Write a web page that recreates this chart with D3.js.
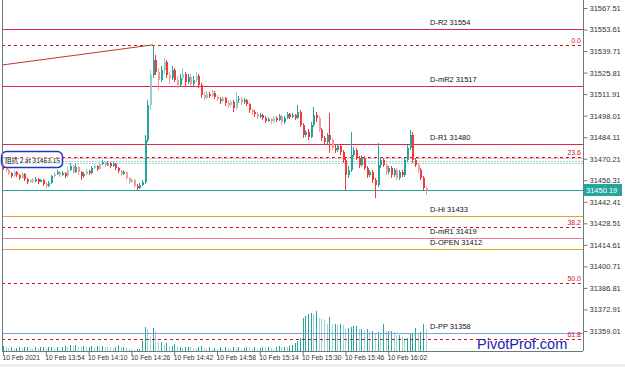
<!DOCTYPE html>
<html>
<head>
<meta charset="utf-8">
<script src="https://cdn.jsdelivr.net/npm/d3@7"></script>
<style>
  body { margin: 0; background: #fff; }
  svg { display: block; }
</style>
</head>
<body>
<div id="chart"></div>
<script>
// M1 bars, 10 Feb 2021 from 13:38, one row per minute: [open, high, low, close]
const startTime = new Date(2021, 1, 10, 13, 38);
const candles = [
  [31465.5,31466.8,31463.0,31464.3],[31464.3,31464.9,31461.7,31463.0],[31463.0,31463.6,31459.7,31461.0],[31461.0,31461.7,31457.8,31459.1],
  [31459.1,31463.0,31458.5,31461.7],[31461.7,31462.3,31458.5,31459.7],[31459.7,31460.4,31456.5,31457.8],[31457.8,31461.7,31457.2,31460.4],
  [31460.4,31461.0,31455.9,31457.2],[31457.2,31457.8,31453.9,31455.2],[31455.2,31457.2,31454.6,31456.5],[31456.5,31457.8,31454.6,31455.9],
  [31455.9,31458.5,31455.2,31457.2],[31457.2,31457.8,31453.9,31455.2],[31455.2,31457.2,31455.2,31456.5],[31456.5,31457.2,31452.6,31453.9],
  [31453.9,31455.2,31451.3,31452.6],[31452.6,31455.9,31452.0,31454.6],[31454.6,31459.7,31453.9,31459.1],[31459.1,31461.7,31457.8,31460.4],
  [31460.4,31463.0,31459.7,31461.7],[31461.7,31462.3,31458.5,31459.7],[31459.7,31462.3,31459.1,31461.0],[31461.0,31461.7,31457.8,31459.1],
  [31459.1,31465.5,31458.5,31463.0],[31463.0,31467.5,31462.3,31465.5],[31465.5,31466.2,31460.4,31461.7],[31461.7,31466.8,31461.0,31464.9],
  [31464.9,31465.5,31459.7,31461.7],[31461.7,31462.3,31456.5,31459.1],[31459.1,31461.7,31457.8,31460.4],[31460.4,31463.6,31459.7,31462.3],
  [31462.3,31463.0,31459.7,31461.0],[31461.0,31465.5,31460.4,31464.3],[31464.3,31466.8,31463.6,31465.5],[31465.5,31466.2,31462.3,31463.6],
  [31463.6,31468.1,31463.0,31466.8],[31466.8,31469.4,31466.2,31468.1],[31468.1,31468.8,31464.9,31466.2],[31466.2,31468.8,31465.5,31467.5],
  [31467.5,31468.1,31464.3,31465.5],[31465.5,31468.1,31464.9,31466.8],[31466.8,31467.5,31463.0,31464.3],[31464.3,31464.9,31461.0,31462.3],
  [31462.3,31463.0,31459.1,31460.4],[31460.4,31463.0,31459.7,31461.7],[31461.7,31462.3,31456.5,31457.8],[31457.8,31458.5,31453.9,31455.2],
  [31455.2,31457.8,31454.6,31456.5],[31456.5,31457.2,31451.3,31452.6],[31452.6,31453.9,31450.1,31451.3],[31451.3,31454.6,31450.7,31453.3],
  [31453.3,31456.5,31452.6,31455.2],[31455.2,31485.6,31453.9,31482.3],[31482.3,31508.2,31481.0,31504.9],[31504.9,31527.5,31501.7,31524.3],
  [31524.3,31543.7,31522.4,31534.0],[31534.0,31537.2,31524.3,31526.2],[31526.2,31528.8,31514.6,31521.1],[31521.1,31530.1,31519.8,31527.5],
  [31527.5,31535.3,31524.9,31532.7],[31532.7,31534.0,31522.4,31524.3],[31524.3,31526.2,31518.5,31522.4],[31522.4,31530.1,31521.1,31527.5],
  [31527.5,31528.8,31519.8,31521.1],[31521.1,31523.6,31515.9,31517.8],[31517.8,31524.9,31517.2,31522.4],[31522.4,31528.8,31521.1,31524.9],
  [31524.9,31526.2,31517.2,31519.8],[31519.8,31524.9,31518.5,31523.0],[31523.0,31524.9,31517.2,31518.5],[31518.5,31523.6,31517.2,31521.1],
  [31521.1,31526.2,31519.8,31523.6],[31523.6,31524.9,31515.9,31517.8],[31517.8,31519.1,31509.4,31511.4],[31511.4,31513.3,31508.2,31509.4],
  [31509.4,31514.0,31508.8,31512.0],[31512.0,31513.3,31509.4,31510.7],[31510.7,31514.6,31510.1,31512.7],[31512.7,31514.0,31508.8,31510.1],
  [31510.1,31511.4,31507.5,31508.8],[31508.8,31510.1,31505.6,31507.5],[31507.5,31510.7,31506.2,31509.4],[31509.4,31510.1,31504.3,31506.2],
  [31506.2,31507.5,31503.0,31504.9],[31504.9,31508.2,31503.6,31506.9],[31506.9,31508.2,31500.4,31503.0],[31503.0,31513.3,31501.7,31508.2],
  [31508.2,31510.7,31506.2,31508.8],[31508.8,31510.1,31504.9,31506.9],[31506.9,31509.4,31505.6,31508.2],[31508.2,31508.8,31504.3,31505.6],
  [31505.6,31506.2,31499.8,31501.7],[31501.7,31503.0,31498.5,31500.4],[31500.4,31501.7,31497.2,31499.1],[31499.1,31500.4,31495.9,31497.2],
  [31497.2,31499.8,31496.5,31498.5],[31498.5,31499.1,31495.2,31496.5],[31496.5,31497.8,31493.3,31494.6],[31494.6,31497.2,31493.9,31495.9],
  [31495.9,31496.5,31492.7,31494.6],[31494.6,31497.8,31493.3,31496.5],[31496.5,31497.8,31493.9,31495.2],[31495.2,31499.1,31494.6,31497.8],
  [31497.8,31498.5,31492.0,31493.9],[31493.9,31497.8,31492.7,31496.5],[31496.5,31500.4,31495.9,31499.1],[31499.1,31499.8,31495.9,31497.2],
  [31497.2,31499.8,31496.5,31498.5],[31498.5,31499.1,31495.2,31496.5],[31496.5,31504.9,31495.9,31500.4],[31500.4,31501.7,31490.7,31492.0],
  [31492.0,31493.3,31483.6,31485.6],[31485.6,31488.8,31484.3,31487.5],[31487.5,31489.4,31482.3,31484.3],[31484.3,31493.9,31483.6,31492.0],
  [31492.0,31503.6,31490.7,31498.5],[31498.5,31500.4,31493.9,31496.5],[31496.5,31497.8,31487.5,31488.8],[31488.8,31490.1,31481.7,31483.6],
  [31483.6,31484.9,31479.1,31481.0],[31481.0,31486.8,31479.7,31485.6],[31485.6,31499.8,31473.9,31482.3],[31482.3,31483.6,31475.9,31477.2],
  [31477.2,31479.1,31473.9,31475.9],[31475.9,31479.7,31474.6,31478.5],[31478.5,31479.1,31472.6,31474.6],[31474.6,31475.9,31467.5,31469.4],
  [31469.4,31470.7,31450.1,31459.7],[31459.7,31465.5,31457.8,31463.0],[31463.0,31487.5,31461.7,31472.6],[31472.6,31477.8,31471.4,31475.9],
  [31475.9,31477.2,31469.4,31470.7],[31470.7,31472.0,31464.3,31466.2],[31466.2,31472.6,31464.9,31470.7],[31470.7,31472.0,31463.0,31464.3],
  [31464.3,31465.5,31457.8,31459.7],[31459.7,31463.0,31458.5,31461.7],[31461.7,31463.0,31454.6,31456.5],[31456.5,31457.8,31444.9,31453.3],
  [31453.3,31480.4,31452.0,31466.2],[31466.2,31471.4,31464.3,31469.4],[31469.4,31470.7,31464.9,31466.2],[31466.2,31467.5,31459.7,31461.7],
  [31461.7,31465.5,31460.4,31464.3],[31464.3,31465.5,31457.8,31459.7],[31459.7,31464.3,31458.5,31463.0],[31463.0,31464.3,31456.5,31457.8],
  [31457.8,31463.0,31456.5,31461.7],[31461.7,31463.0,31458.5,31459.7],[31459.7,31470.7,31458.5,31469.4],[31469.4,31479.1,31468.1,31477.2],
  [31477.2,31488.8,31475.9,31485.6],[31485.6,31487.5,31467.5,31469.4],[31469.4,31470.7,31464.9,31466.2],[31466.2,31467.5,31461.0,31463.0],
  [31463.0,31464.3,31456.5,31457.8],[31457.8,31459.1,31450.1,31451.3],[31451.3,31452.6,31446.8,31450.19]
];

// tick volume per bar
const volumes = [
  50,40,30,35,25,30,45,30,35,40,30,25,35,30,40,45,30,35,40,30,35,25,40,55,45,60,50,65,45,40,
  50,35,40,55,45,50,40,55,45,40,35,30,40,60,35,45,30,25,20,15,20,25,
  100,240,220,150,230,200,90,90,60,80,50,50,70,40,40,30,40,45,35,30,25,45,50,
  30,25,40,20,30,25,35,20,45,30,25,40,30,35,25,30,45,40,20,35,25,30,40,35,45,30,25,40,50,35,45,40,50,60,80,
  100,130,330,350,370,380,370,400,330,320,310,270,340,270,270,260,270,260,230,230,
  240,250,250,220,220,210,220,200,200,180,190,180,270,200,200,200,190,160,160,140,
  130,130,170,170,230,180,190,270,210
];

const priceTicks = [31567.51,31553.61,31539.71,31525.81,31511.91,31498.01,31484.11,31470.21,
  31456.31,31442.41,31428.51,31414.61,31400.71,31386.81,31372.91,31359.01];
const timeTickLabels = ["10 Feb 2021","10 Feb 13:54","10 Feb 14:10","10 Feb 14:26","10 Feb 14:42",
  "10 Feb 14:58","10 Feb 15:14","10 Feb 15:30","10 Feb 15:46","10 Feb 16:02"];

const pivotNames = ["D-R2","D-mR2","D-R1","D-Hi","D-mR1","D-OPEN","D-PP"];
const pivotValues = [31554,31517,31480,31433,31419,31412,31358];

const fibLevels = [0.0, 23.6, 38.2, 50.0, 61.8];
const fibHigh = 31543.7, fibLow = 31236.4;

const zoneLevels = [31470.7, 31469.0, 31467.6];
const trendPrices = [31530.7, 31543.7]; // bar 0 -> bar 56
const trendBars = [0, 56];
const lastPrice = 31450.19;
const noteText = "阻抗 2 at 31463.15";

// styles
const pivotColor = { "D-R2": "#e0284f", "D-mR2": "#e0284f", "D-R1": "#e0284f", "D-Hi": "#f39c2c",
  "D-mR1": "#f07a92", "D-OPEN": "#f39c2c", "D-PP": "#7f9be6" };
const upColor = "#26a69a", downColor = "#ef3b3b";
const upPale = "#8fd1c9", downPale = "#f49a9a";

const W = 625, H = 367;
const plot = { left: 2, right: 583, top: 0, bottom: 351 };
const font = "'Liberation Sans', Arial, sans-serif";

const svg = d3.select("#chart").append("svg").attr("width", W).attr("height", H);
svg.append("rect").attr("width", W).attr("height", H).attr("fill", "#fff");
svg.append("rect").attr("x", 0).attr("y", 364).attr("width", W).attr("height", 3).attr("fill", "#ececec");

const x = d3.scaleTime()
  .domain([startTime, d3.timeSecond.offset(startTime, 13009)])
  .range([3, plot.right]);
const y = d3.scaleLinear().domain([31359.01, 31567.51]).range([331, 8]);
const yVol = d3.scaleLinear().domain([0, 400]).range([plot.bottom, plot.bottom - 40]);
const barX = i => x(d3.timeMinute.offset(startTime, i));
const snap = v => Math.round(v) + 0.5;

svg.append("clipPath").attr("id", "clip").append("rect")
  .attr("x", plot.left).attr("y", plot.top)
  .attr("width", plot.right - plot.left).attr("height", plot.bottom - plot.top);
const g = svg.append("g").attr("clip-path", "url(#clip)");

// volumes
g.append("g").attr("shape-rendering", "crispEdges")
  .selectAll("rect").data(volumes).join("rect")
  .attr("x", (d, i) => Math.round(barX(i)))
  .attr("y", d => Math.round(yVol(d)))
  .attr("width", 1)
  .attr("height", d => plot.bottom - Math.round(yVol(d)))
  .attr("fill", (d, i) => i > 0 && d < volumes[i - 1] ? "#9fd6cf" : "#26a69a");

// zone dotted lines
g.append("g").attr("shape-rendering", "crispEdges")
  .selectAll("line").data(zoneLevels).join("line")
  .attr("x1", plot.left).attr("x2", plot.right)
  .attr("y1", d => snap(y(d))).attr("y2", d => snap(y(d)))
  .attr("stroke", (d, i) => i === 0 ? "#dba7ac" : "#a3d2cb")
  .attr("stroke-width", 1)
  .attr("stroke-dasharray", "2,1");

// pivot lines
const pivots = pivotNames.map((n, i) => ({ name: n, value: pivotValues[i] }));
g.append("g").attr("shape-rendering", "crispEdges")
  .selectAll("line").data(pivots).join("line")
  .attr("x1", plot.left).attr("x2", plot.right)
  .attr("y1", d => snap(y(d.value))).attr("y2", d => snap(y(d.value)))
  .attr("stroke", d => pivotColor[d.name]).attr("stroke-width", 1);
svg.append("g").selectAll("text").data(pivots).join("text")
  .attr("x", 430).attr("y", d => Math.round(y(d.value)) - 4)
  .attr("font-family", font).attr("font-size", 7.5).attr("fill", "#111")
  .text(d => `${d.name} ${d.value}`);

// fibonacci levels
const fibs = fibLevels.map(l => ({ level: l, price: fibHigh - (fibHigh - fibLow) * l / 100 }));
g.append("g").attr("shape-rendering", "crispEdges")
  .selectAll("line").data(fibs).join("line")
  .attr("x1", plot.left).attr("x2", plot.right)
  .attr("y1", d => snap(y(d.price))).attr("y2", d => snap(y(d.price)))
  .attr("stroke", "#d0141e").attr("stroke-width", 1).attr("stroke-dasharray", "3,3");
svg.append("g").selectAll("text").data(fibs).join("text")
  .attr("x", 581).attr("y", d => Math.round(y(d.price)) - 2)
  .attr("text-anchor", "end")
  .attr("font-family", font).attr("font-size", 7).attr("fill", "#d0141e")
  .text(d => d.level.toFixed(1));

// trend line
g.append("line")
  .attr("x1", plot.left).attr("y1", y(trendPrices[0]))
  .attr("x2", barX(trendBars[1])).attr("y2", y(trendPrices[1]))
  .attr("stroke", "#c0392b").attr("stroke-width", 1);

// last price line
g.append("line").attr("shape-rendering", "crispEdges")
  .attr("x1", plot.left).attr("x2", plot.right)
  .attr("y1", snap(y(lastPrice))).attr("y2", snap(y(lastPrice)))
  .attr("stroke", "#26a69a").attr("stroke-width", 1);

// candles
const bars = g.append("g").attr("shape-rendering", "crispEdges")
  .selectAll("g").data(candles).join("g");
const candleFill = (d, i) => {
  const up = d[3] >= d[0];
  const pale = i > 0 && volumes[i] < volumes[i - 1] * 0.85;
  return up ? (pale ? upPale : upColor) : (pale ? downPale : downColor);
};
bars.append("line")
  .attr("x1", (d, i) => snap(barX(i))).attr("x2", (d, i) => snap(barX(i)))
  .attr("y1", d => Math.round(y(d[1]))).attr("y2", d => Math.round(y(d[2])))
  .attr("stroke", candleFill).attr("stroke-width", 1);
bars.append("rect")
  .attr("x", (d, i) => Math.round(barX(i)) - 0.5)
  .attr("y", d => Math.round(y(Math.max(d[0], d[3]))))
  .attr("width", 2)
  .attr("height", d => Math.max(1, Math.round(Math.abs(y(d[0]) - y(d[3])))))
  .attr("fill", candleFill);

// note box on the left
const noteY = y(zoneLevels[1]);
svg.append("rect")
  .attr("x", 1.5).attr("y", noteY - 9).attr("width", 61).attr("height", 16).attr("rx", 5)
  .attr("fill", "#fff").attr("fill-opacity", 0.5)
  .attr("stroke", "#2233cc").attr("stroke-width", 1.5);
svg.append("text")
  .attr("x", 5).attr("y", noteY + 2.5)
  .attr("textLength", 55).attr("lengthAdjust", "spacingAndGlyphs")
  .attr("font-family", "'Noto Sans CJK SC', " + font).attr("font-size", 7).attr("fill", "#222")
  .text(noteText);

// frame
svg.append("line").attr("x1", plot.left + 0.5).attr("x2", plot.left + 0.5)
  .attr("y1", plot.top).attr("y2", plot.bottom).attr("stroke", "#6b7b7b");

// right price axis
const yAxis = svg.append("g")
  .attr("transform", `translate(${plot.right + 0.5},0)`)
  .call(d3.axisRight(y).tickValues(priceTicks).tickSize(4).tickPadding(2).tickFormat(d3.format(".2f")));
yAxis.select(".domain").attr("stroke", "#6b7b7b").attr("d", `M0,0V${plot.bottom}`);
yAxis.selectAll(".tick line").attr("stroke", "#6b7b7b");
yAxis.selectAll(".tick text").attr("font-family", font).attr("font-size", 7.5).attr("fill", "#333");

// bottom time axis
const timeTicks = timeTickLabels.map((t, i) => d3.timeMinute.offset(startTime, i * 16));
const xAxis = svg.append("g")
  .attr("transform", `translate(0,${plot.bottom + 0.5})`)
  .call(d3.axisBottom(x).tickValues(timeTicks).tickSize(4)
    .tickFormat((d, i) => timeTickLabels[i]));
xAxis.select(".domain").attr("stroke", "#6b7b7b").attr("d", `M${plot.left},0H${plot.right}`);
xAxis.selectAll(".tick line").attr("stroke", "#6b7b7b");
xAxis.selectAll(".tick text")
  .attr("text-anchor", "start").attr("dx", -1).attr("dy", 1)
  .attr("font-family", font).attr("font-size", 6.7).attr("fill", "#333");

// last price tag
const lp = Math.round(y(lastPrice));
svg.append("rect").attr("x", plot.right + 1).attr("y", lp - 6).attr("width", 38).attr("height", 12)
  .attr("fill", "#26a69a");
svg.append("text").attr("x", plot.right + 3).attr("y", lp + 3)
  .attr("font-family", font).attr("font-size", 7.5).attr("fill", "#fff")
  .text(lastPrice.toFixed(2));

// watermark
svg.append("text").attr("x", 477).attr("y", 349)
  .attr("font-family", "'Liberation Sans', Arial, sans-serif").attr("font-size", 14.5)
  .attr("fill", "#1b22b5").text("PivotProf.com");
</script>
</body>
</html>
